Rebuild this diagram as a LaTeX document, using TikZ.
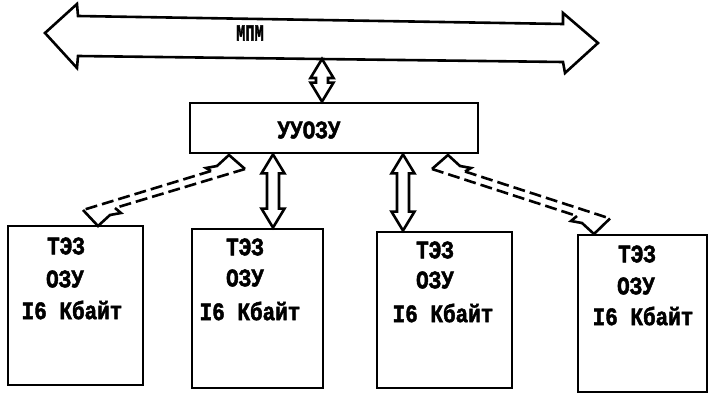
\documentclass[tikz,border=0pt]{standalone}
\usepackage{fontspec}
\newfontfamily\tw{Liberation Mono}[BoldFeatures={FakeBold=2}]
\usetikzlibrary{calc}
\newcommand\vstretch[1]{\scalebox{1}[1.2]{#1}}
\tikzset{
  ln/.style={line width=2.6pt, line join=miter, miter limit=4},
  boxnode/.style={draw, line width=2.8pt, inner sep=0pt},
  lbl/.style={font=\tw\bfseries\fontsize{21}{24}\selectfont, inner sep=0pt},
  smalllbl/.style={font=\tw\bfseries\fontsize{18}{20}\selectfont, inner sep=0pt},
  dsh/.style={line width=2.6pt, dash pattern=on 12pt off 5pt},
}
\newcommand\dblarr[2]{%
  \draw[ln] (#1) -- ++(11.5,19) -- ++(-5.5,0) -- ($(#2)+(6,-19)$) -- ++(5.5,0)
    -- (#2) -- ++(-11.5,-19) -- ++(5.5,0) -- ($(#1)+(-6,19)$) -- ++(-5.5,0) -- cycle;}
\begin{document}
\begin{tikzpicture}[x=1pt,y=-1pt]
\useasboundingbox (0,0) rectangle (710,396);

% bus
\draw[ln] (45,33) -- (77,4) -- (78,16) -- (563,24) -- (563,13) -- (598,43)
  -- (565,73) -- (563,62) -- (78,56) -- (77,68) -- cycle;
\node[smalllbl] (mpm) at (250,33) {\scalebox{0.85}[1.3]{МПМ}};
\coordinate (busb) at (322,59);

% control unit
\node[boxnode, minimum width=288pt, minimum height=50pt] (uu) at (334,128) {};
\node[lbl] (uut) at (309,130) {\vstretch{УУОЗУ}};

% memory modules
\node[boxnode, minimum width=135pt, minimum height=159pt] (b1) at (75.5,305.5) {};
\node[boxnode, minimum width=131pt, minimum height=159pt] (b2) at (257.5,308.5) {};
\node[boxnode, minimum width=135pt, minimum height=156pt] (b3) at (444.5,310) {};
\node[boxnode, minimum width=129pt, minimum height=157pt] (b4) at (642.5,313.5) {};

\node[lbl] (t1a) at (66,246) {\vstretch{ТЭЗ}};
\node[lbl] (t1b) at (65,279) {\vstretch{ОЗУ}};
\node[lbl] (t1c) at (72,310) {\vstretch{I6 Кбайт}};
\node[lbl] (t2a) at (245,247) {\vstretch{ТЭЗ}};
\node[lbl] (t2b) at (245,278) {\vstretch{ОЗУ}};
\node[lbl] (t2c) at (250,311) {\vstretch{I6 Кбайт}};
\node[lbl] (t3a) at (435,250) {\vstretch{ТЭЗ}};
\node[lbl] (t3b) at (435,280) {\vstretch{ОЗУ}};
\node[lbl] (t3c) at (443,313) {\vstretch{I6 Кбайт}};
\node[lbl] (t4a) at (637,254) {\vstretch{ТЭЗ}};
\node[lbl] (t4b) at (636,286) {\vstretch{ОЗУ}};
\node[lbl] (t4c) at (643,316) {\vstretch{I6 Кбайт}};

% parallel links
\coordinate (uutop) at (uu.north -| busb);
\dblarr{busb}{uutop}
\coordinate (l1a) at (uu.south -| 273,0);
\coordinate (l1b) at (b2.north -| 273,0);
\dblarr{l1a}{l1b}
\coordinate (l2a) at (uu.south -| 403,0);
\coordinate (l2b) at (b3.north -| 403,0);
\dblarr{l2a}{l2b}

% lightning link, left
\coordinate (LV) at (229,155); \coordinate (LA) at (245,169);
\coordinate (LK) at (217,166); \coordinate (LZ1) at (206,168); \coordinate (LZ2) at (211,171);
\coordinate (LVb) at (98,226); \coordinate (LAb) at (83,210);
\coordinate (LKb) at (110,215); \coordinate (LZb1) at (121,213); \coordinate (LZb2) at (115,208);
\draw[ln] (LA) -- (LV) -- (LK) -- (LZ1) -- (LZ2);
\draw[ln] (LAb) -- (LVb) -- (LKb) -- (LZb1) -- (LZb2);
\draw[dsh] (LZ2) -- (LAb);
\draw[dsh] (LA) -- (LZb2);

% lightning link, right
\coordinate (RV) at (448,155); \coordinate (RA) at (432,169);
\coordinate (RK) at (460,166); \coordinate (RZ1) at (471,168); \coordinate (RZ2) at (465,171.5);
\coordinate (RVb) at (594,234); \coordinate (RAb) at (610,218.5);
\coordinate (RKb) at (582,223); \coordinate (RZb1) at (571,221); \coordinate (RZb2) at (577,216);
\draw[ln] (RA) -- (RV) -- (RK) -- (RZ1) -- (RZ2);
\draw[ln] (RAb) -- (RVb) -- (RKb) -- (RZb1) -- (RZb2);
\draw[dsh] (RZ2) -- (RAb);
\draw[dsh] (RA) -- (RZb2);
\end{tikzpicture}
\end{document}
